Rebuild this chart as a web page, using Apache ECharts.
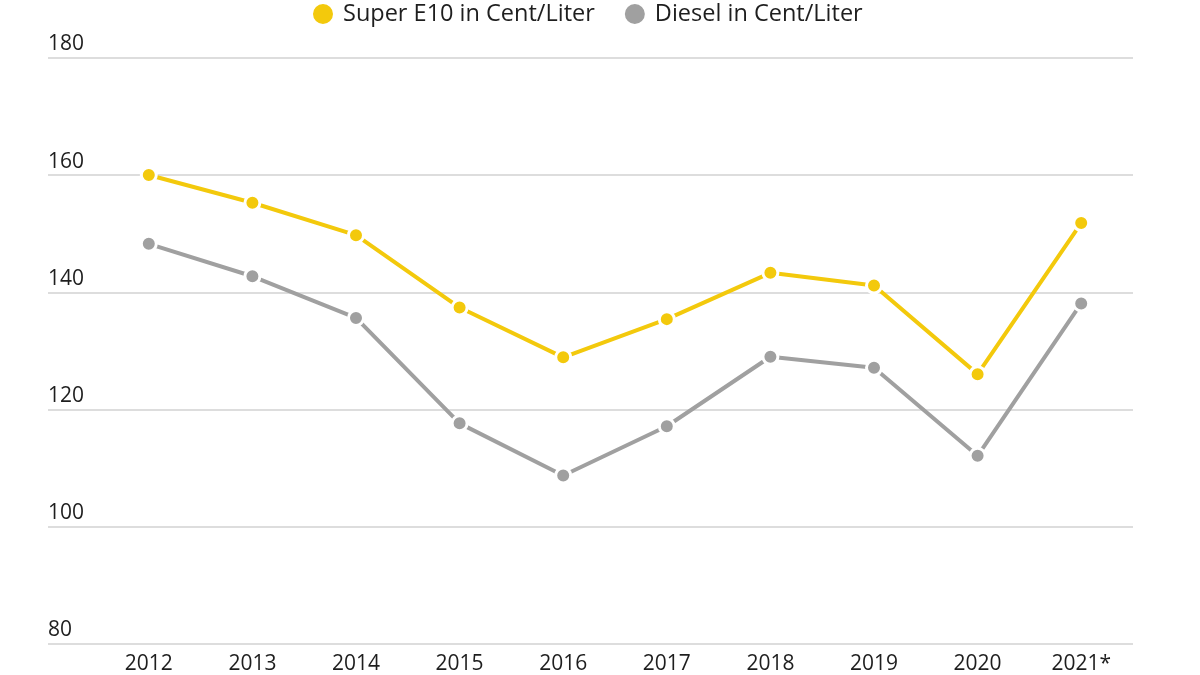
<!DOCTYPE html>
<html>
<head>
<meta charset="utf-8">
<script src="https://cdn.jsdelivr.net/npm/echarts@6/dist/echarts.min.js"></script>
<style>
html, body { margin: 0; padding: 0; background: #fff; }
#chart { width: 1200px; height: 675px; }
</style>
</head>
<body>
<div id="chart"></div>
<script>
/* Spritpreise Jahresdurchschnitt */
var years = ['2012', '2013', '2014', '2015', '2016', '2017', '2018', '2019', '2020', '2021*'];
var superE10 = [159.8, 155.0, 149.4, 136.9, 128.3, 134.9, 142.9, 140.7, 125.4, 151.5];
var diesel = [147.9, 142.3, 135.1, 116.9, 107.9, 116.4, 128.4, 126.5, 111.3, 137.6];
var yTicks = [80, 100, 120, 140, 160, 180];

var fontName = '"Open Sans", "Noto Sans", sans-serif';

option = {
    animation: false,
    textStyle: {
        fontFamily: fontName
    },
    legend: {
        top: -3,
        left: 306,
        itemWidth: 22,
        itemHeight: 22,
        itemGap: 28,
        icon: 'circle',
        textStyle: {
            color: '#1e1e1e',
            fontSize: 23.5,
            padding: [0, 0, 0, 4],
            fontFamily: fontName
        },
        data: ['Super E10 in Cent/Liter', 'Diesel in Cent/Liter']
    },
    grid: [
        // grid lines + y labels
        {left: 48, right: 67, top: 58, bottom: 31},
        // data area
        {left: 97, right: 67, top: 58, bottom: 31}
    ],
    xAxis: [
        {
            gridIndex: 0,
            type: 'category',
            data: years,
            show: false
        },
        {
            gridIndex: 1,
            type: 'category',
            data: years,
            boundaryGap: true,
            axisLine: {show: false},
            axisTick: {show: false},
            axisLabel: {
                color: '#1e1e1e',
                fontSize: 21,
                margin: 17,
                fontFamily: fontName
            }
        }
    ],
    yAxis: [
        {
            gridIndex: 0,
            type: 'value',
            min: yTicks[0],
            max: yTicks[yTicks.length - 1],
            interval: 20,
            axisLine: {show: false},
            axisTick: {show: false},
            axisLabel: {
                inside: true,
                verticalAlign: 'bottom',
                margin: 0,
                padding: [0, 0, 3, 0],
                color: '#1e1e1e',
                fontSize: 21,
                fontFamily: fontName
            },
            splitLine: {
                lineStyle: {color: '#d2d2d2', width: 1.5}
            }
        },
        {
            gridIndex: 1,
            type: 'value',
            min: yTicks[0],
            max: yTicks[yTicks.length - 1],
            interval: 20,
            show: false,
            splitLine: {show: false}
        }
    ],
    series: [
        {
            name: 'Super E10 in Cent/Liter',
            type: 'line',
            xAxisIndex: 1,
            yAxisIndex: 1,
            data: superE10,
            symbol: 'circle',
            symbolSize: 15,
            lineStyle: {color: '#f3c90c', width: 4},
            itemStyle: {color: '#f3c90c', borderColor: '#fff', borderWidth: 3},
            z: 3
        },
        {
            name: 'Diesel in Cent/Liter',
            type: 'line',
            xAxisIndex: 1,
            yAxisIndex: 1,
            data: diesel,
            symbol: 'circle',
            symbolSize: 15,
            lineStyle: {color: '#a0a0a0', width: 4},
            itemStyle: {color: '#a0a0a0', borderColor: '#fff', borderWidth: 3},
            z: 2
        }
    ]
};
var myChart = echarts.init(document.getElementById('chart'));
    myChart.setOption(option);
</script>
</body>
</html>
